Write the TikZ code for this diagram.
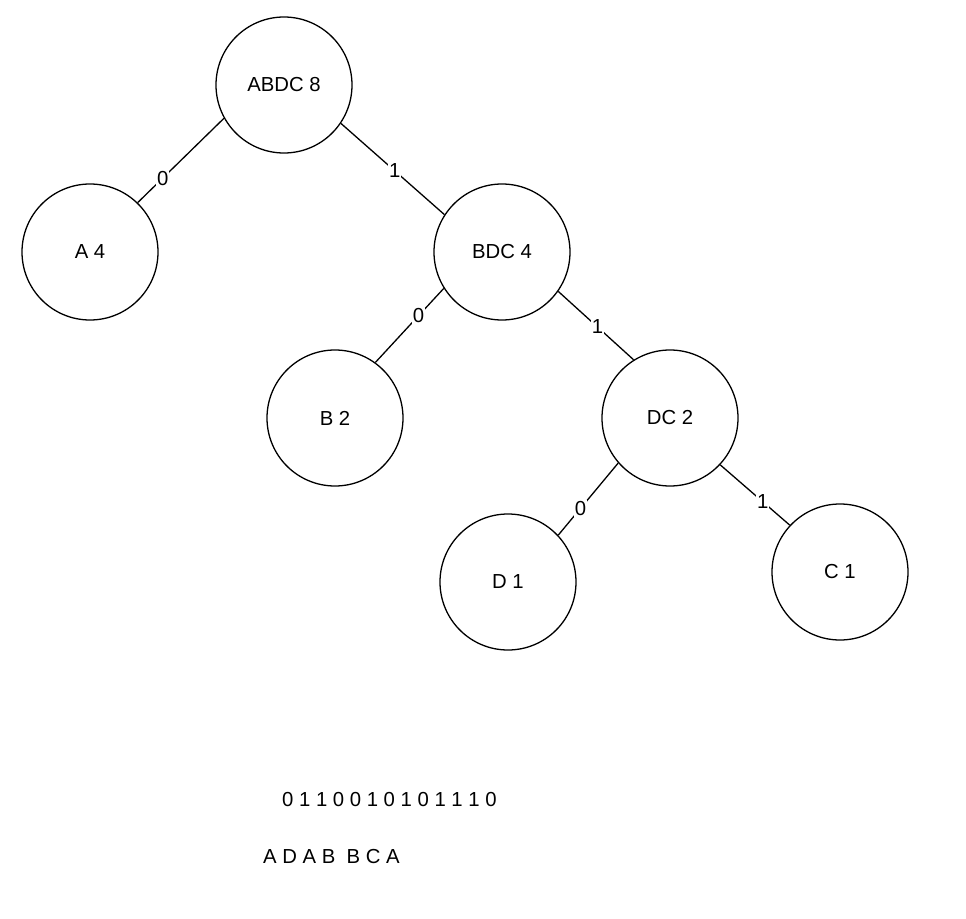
\documentclass[tikz,border=0pt]{standalone}
\usepackage{fontspec}
\setmainfont{Liberation Sans}
\usetikzlibrary{positioning}

\begin{document}
\begin{tikzpicture}[x=1pt,y=-1pt,
  every node/.style={font=\fontsize{20.3}{23}\selectfont},
  huff/.style={draw,circle,line width=1.3pt,minimum size=136pt,inner sep=0pt},
  bit/.style={fill=white,inner sep=1pt}]
\useasboundingbox (0,0) rectangle (966,918);
% tree nodes
\node[huff] (abdc) at (284,85)  {ABDC 8};
\node[huff] (a)    at (90,252)  {A 4};
\node[huff] (bdc)  at (502,252) {BDC 4};
\node[huff] (b)    at (335,418) {B 2};
\node[huff] (dc)   at (670,418) {DC 2};
\node[huff] (d)    at (508,582) {D 1};
\node[huff] (c)    at (840,572) {C 1};
% edges with code bits
\draw[line width=1.3pt] (abdc.209) -- node[bit,pos=0.71]{0} (a.46);
\draw[line width=1.3pt] (abdc.326) -- node[bit,pos=0.52]{1} (bdc.147);
\draw[line width=1.3pt] (bdc.212)  -- node[bit,pos=0.37]{0} (b.54);
\draw[line width=1.3pt] (bdc.325)  -- node[bit,pos=0.52]{1} (dc.122);
\draw[line width=1.3pt] (dc.221)   -- node[bit,pos=0.63]{0} (d.43);
\draw[line width=1.3pt] (dc.317)   -- node[bit,pos=0.61]{1} (c.137);
% encoded and decoded strings
\node[anchor=west,inner sep=0pt] (bits) at (282,800) {0 1 1 0 0 1 0 1 0 1 1 1 0};
\node[anchor=west,inner sep=0pt] (word) at (263,856) {A D A B \ B C A};
\end{tikzpicture}
\end{document}
